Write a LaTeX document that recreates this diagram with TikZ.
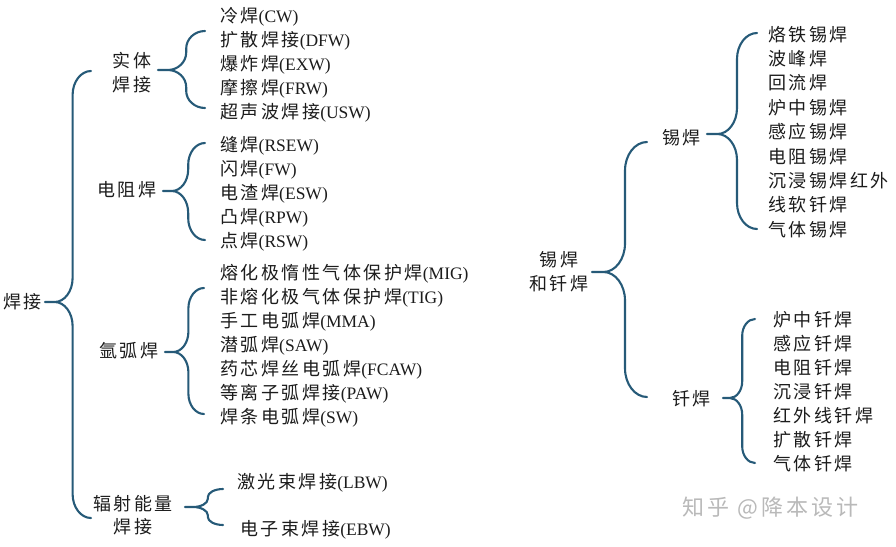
\documentclass[tikz,border=0pt]{standalone}
\usepackage{fontspec}
\setmainfont{Liberation Serif}
\newfontfamily\cjkfont[LetterSpace=14]{Noto Sans CJK SC}
\newcommand\cjk{\cjkfont\fontsize{18}{23.5}\selectfont}
\definecolor{bracecol}{RGB}{38,90,120}
\definecolor{txt}{RGB}{28,28,28}
\definecolor{wmcol}{RGB}{185,185,185}
% brace: #1 tip x, #2 tip y, #3 end x, #4 top end y, #5 bottom end y
\newcommand\mybrace[5]{%
  \pgfmathsetmacro\bxv{#1+0.6*(#3-#1)}%
  \pgfmathsetmacro\bw{#3-\bxv}%
  \pgfmathsetmacro\bht{min(1.3*\bw,0.45*(#2-#4))}%
  \pgfmathsetmacro\bhb{min(1.3*\bw,0.45*(#5-#2))}%
  \pgfmathsetmacro\bs{#1+0.35*(\bxv-#1)}%
  \pgfmathsetmacro\bca{\bxv+0.45*\bw}%
  \pgfmathsetmacro\bcm{\bs+0.55*(\bxv-\bs)}%
  \pgfmathsetmacro\bya{#4+\bht}\pgfmathsetmacro\byac{#4+0.45*\bht}%
  \pgfmathsetmacro\byb{#2-\bht}\pgfmathsetmacro\bybc{#2-0.45*\bht}%
  \pgfmathsetmacro\byc{#2+\bhb}\pgfmathsetmacro\bycc{#2+0.45*\bhb}%
  \pgfmathsetmacro\byd{#5-\bhb}\pgfmathsetmacro\bydc{#5-0.45*\bhb}%
  \draw[bracestyle] (#3,#4) .. controls (\bca,#4) and (\bxv,\byac) .. (\bxv,\bya)
     -- (\bxv,\byb) .. controls (\bxv,\bybc) and (\bcm,#2) .. (\bs,#2) -- (#1,#2)
     (\bs,#2) .. controls (\bcm,#2) and (\bxv,\bycc) .. (\bxv,\byc)
     -- (\bxv,\byd) .. controls (\bxv,\bydc) and (\bca,#5) .. (#3,#5);
}
\begin{document}
\begin{tikzpicture}[x=1pt,y=-1pt,
  bracestyle/.style={draw=bracecol, line width=2.1pt, line cap=round, line join=round},
  item/.style={anchor=west, inner sep=0pt, text=txt, font=\fontsize{17.5}{20}\selectfont},
  cat/.style={inner sep=0pt, text=txt, font=\cjk, align=center}]
\fill[white] (0,0) rectangle (896,546);
\useasboundingbox (0,0) rectangle (896,546);

% root
\node[cat, anchor=west] (root) at (3,302) {焊接};
\mybrace{45}{302}{91}{71}{518}

% 实体焊接
\node[cat] (shiti) at (132,72.5) {实体\\焊接};
\mybrace{158}{70}{205}{31}{108}
\node[item] (cw)  at (220,17)  {{\cjk 冷焊}(CW)};
\node[item] (dfw) at (220,41)  {{\cjk 扩散焊接}(DFW)};
\node[item] (exw) at (220,65)  {{\cjk 爆炸焊}(EXW)};
\node[item] (frw) at (220,89)  {{\cjk 摩擦焊}(FRW)};
\node[item] (usw) at (220,113) {{\cjk 超声波焊接}(USW)};

% 电阻焊
\node[cat, anchor=west] (dianzu) at (97,190) {电阻焊};
\mybrace{163}{191}{205}{143}{240}
\node[item] (rsew) at (220,146) {{\cjk 缝焊}(RSEW)};
\node[item] (fw)   at (220,170) {{\cjk 闪焊}(FW)};
\node[item] (esw)  at (220,194) {{\cjk 电渣焊}(ESW)};
\node[item] (rpw)  at (220,218) {{\cjk 凸焊}(RPW)};
\node[item] (rsw)  at (220,242) {{\cjk 点焊}(RSW)};

% 氩弧焊
\node[cat, anchor=west] (yahu) at (99,351) {氩弧焊};
\mybrace{165}{352}{204}{288}{414}
\node[item] (mig)  at (220,274) {{\cjk 熔化极惰性气体保护焊}(MIG)};
\node[item] (tig)  at (220,298) {{\cjk 非熔化极气体保护焊}(TIG)};
\node[item] (mma)  at (220,322) {{\cjk 手工电弧焊}(MMA)};
\node[item] (saw)  at (220,346) {{\cjk 潜弧焊}(SAW)};
\node[item] (fcaw) at (220,370) {{\cjk 药芯焊丝电弧焊}(FCAW)};
\node[item] (paw)  at (220,394) {{\cjk 等离子弧焊接}(PAW)};
\node[item] (sw)   at (220,418) {{\cjk 焊条电弧焊}(SW)};

% 辐射能量焊接
\node[cat] (fushe) at (133,515) {辐射能量\\焊接};
\mybrace{185}{507}{223}{489}{525}
\node[item] (lbw) at (237,483) {{\cjk 激光束焊接}(LBW)};
\node[item] (ebw) at (240,530) {{\cjk 电子束焊接}(EBW)};

% 锡焊和钎焊
\node[cat] (xq) at (559,271.5) {锡焊\\和钎焊};
\mybrace{592}{272}{647}{142}{397}

\node[cat, anchor=west] (xi) at (662,138) {锡焊};
\mybrace{707}{134}{757}{33}{229}
\node[item] (x1) at (768,35)  {{\cjk 烙铁锡焊}};
\node[item] (x2) at (768,59)  {{\cjk 波峰焊}};
\node[item] (x3) at (768,83)  {{\cjk 回流焊}};
\node[item] (x4) at (768,108) {{\cjk 炉中锡焊}};
\node[item] (x5) at (768,132) {{\cjk 感应锡焊}};
\node[item] (x6) at (768,157) {{\cjk 电阻锡焊}};
\node[item] (x7) at (768,181) {{\cjk 沉浸锡焊红外}};
\node[item] (x8) at (768,205) {{\cjk 线软钎焊}};
\node[item] (x9) at (768,230) {{\cjk 气体锡焊}};

\node[cat, anchor=west] (qian) at (672,399) {钎焊};
\mybrace{723}{398}{755}{319}{463}
\node[item] (q1) at (773,320) {{\cjk 炉中钎焊}};
\node[item] (q2) at (773,344) {{\cjk 感应钎焊}};
\node[item] (q3) at (773,368) {{\cjk 电阻钎焊}};
\node[item] (q4) at (773,392) {{\cjk 沉浸钎焊}};
\node[item] (q5) at (773,416) {{\cjk 红外线钎焊}};
\node[item] (q6) at (773,440) {{\cjk 扩散钎焊}};
\node[item] (q7) at (773,464) {{\cjk 气体钎焊}};

% watermark
\node[anchor=west, inner sep=0pt, text=wmcol, font=\cjkfont\fontsize{22}{26}\selectfont] (wm) at (682,508) {知乎 @降本设计};
\end{tikzpicture}
\end{document}
